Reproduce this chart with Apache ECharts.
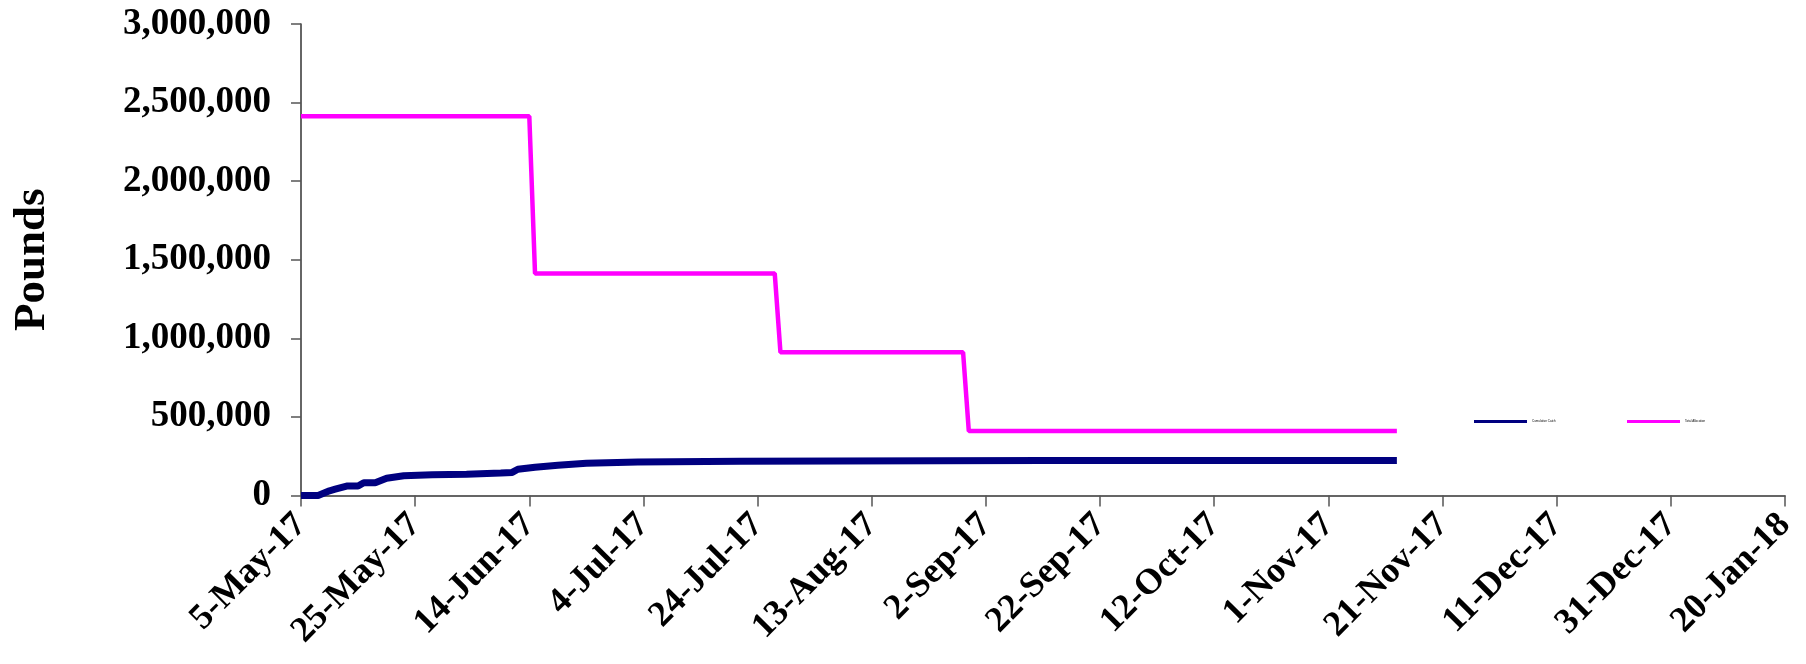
<!DOCTYPE html>
<html>
<head>
<meta charset="utf-8">
<script src="https://cdn.jsdelivr.net/npm/echarts@6/dist/echarts.min.js"></script>
<style>
html,body{margin:0;padding:0;background:#fff;}
#chart{width:1806px;height:664px;}
</style>
</head>
<body>
<div id="chart"></div>
<script>
// x values are days since 5-May-17
const xTickLabels = ['5-May-17','25-May-17','14-Jun-17','4-Jul-17','24-Jul-17','13-Aug-17','2-Sep-17','22-Sep-17','12-Oct-17','1-Nov-17','21-Nov-17','11-Dec-17','31-Dec-17','20-Jan-18'];
const yTickValues = [0, 500000, 1000000, 1500000, 2000000, 2500000, 3000000];

const catchDays   = [0, 3, 5, 6, 8, 10, 11, 13, 15, 18, 23, 29, 35, 37, 38, 41, 45, 50, 59, 77, 94, 130, 192];
const catchValues = [0, 0, 30000, 40000, 60000, 60000, 81000, 81000, 110000, 126000, 132000, 135000, 143000, 147000, 167000, 180000, 192000, 205000, 213000, 218000, 220000, 222000, 222000];

const allocDays   = [0, 40, 41, 83, 84, 116, 117, 192];
const allocValues = [2413000, 2413000, 1413000, 1413000, 911000, 911000, 410000, 410000];

const seriesNames = ['Cumulative Catch', 'Total Allocation'];

const font = '"Liberation Serif", "Times New Roman", serif';
const chart = echarts.init(document.getElementById('chart'), null, {renderer: 'canvas'});

function fmt(v) { return String(v).replace(/\B(?=(\d{3})+(?!\d))/g, ','); }

chart.setOption({
  animation: false,
  backgroundColor: '#fff',
  grid: {left: 301, top: 24, right: 21, bottom: 168.5, containLabel: false, outerBoundsMode: 'none'},
  legend: [
    {left: 1474, top: 420, data: [{name: seriesNames[0], icon: 'rect'}], itemWidth: 53, itemHeight: 3, itemGap: 5,
     textStyle: {fontSize: 3, color: '#000', fontFamily: 'Arial'}, padding: 0},
    {left: 1627, top: 420, data: [{name: seriesNames[1], icon: 'rect'}], itemWidth: 53, itemHeight: 3, itemGap: 5,
     textStyle: {fontSize: 3, color: '#000', fontFamily: 'Arial'}, padding: 0}
  ],
  xAxis: {
    type: 'value', min: 0, max: 260, interval: 20,
    axisLine: {show: true, onZero: false, lineStyle: {color: '#333', width: 1.5}},
    axisTick: {show: true, length: 11, lineStyle: {color: '#555', width: 1.5}},
    splitLine: {show: false},
    axisLabel: {
      rotate: 45, margin: 24, fontSize: 36, fontWeight: 'bold', color: '#000', fontFamily: font,
      formatter: v => xTickLabels[Math.round(v / 20)] || ''
    }
  },
  yAxis: {
    type: 'value', min: yTickValues[0], max: yTickValues[yTickValues.length - 1], interval: 500000,
    name: 'Pounds', nameLocation: 'middle', nameRotate: 90, nameGap: 246,
    nameTextStyle: {fontSize: 45, fontWeight: 'bold', color: '#000', fontFamily: font},
    axisLine: {show: true, lineStyle: {color: '#333', width: 1.5}},
    axisTick: {show: true, length: 10, lineStyle: {color: '#555', width: 1.5}},
    splitLine: {show: false},
    axisLabel: {margin: 30, fontSize: 37, fontWeight: 'bold', color: '#000', fontFamily: font, formatter: v => fmt(v)}
  },
  series: [
    {name: seriesNames[0], type: 'line', showSymbol: false, symbol: 'none',
     data: catchDays.map((d, i) => [d, catchValues[i]]),
     itemStyle: {color: '#000080'}, lineStyle: {color: '#000080', width: 7}, z: 3},
    {name: seriesNames[1], type: 'line', showSymbol: false, symbol: 'none',
     data: allocDays.map((d, i) => [d, allocValues[i]]),
     itemStyle: {color: '#FF00FF'}, lineStyle: {color: '#FF00FF', width: 4.5}, z: 2}
  ]
});
</script>
</body>
</html>
